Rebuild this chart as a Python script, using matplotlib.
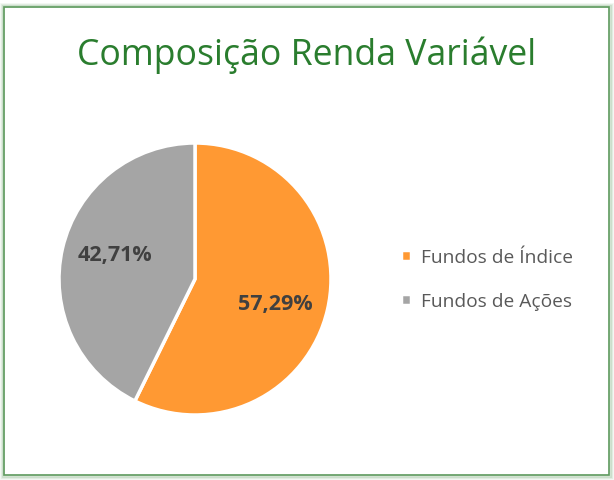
"""Pie chart: composição renda variável."""

import matplotlib.pyplot as plt
from matplotlib.patches import Rectangle

plt.rcParams["font.family"] = ["Open Sans", "DejaVu Sans"]

categories = ["Fundos de Índice", "Fundos de Ações"]
shares = [57.29, 42.71]
labels = ["57,29%", "42,71%"]
colors = ["#FF9933", "#A5A5A5"]

W, H = 614, 481
fig = plt.figure(figsize=(W / 100, H / 100), dpi=100)
fig.patch.set_facecolor("white")

# soft green shadow and frame
for i, a in enumerate([0.10, 0.15, 0.25]):
    d = 3 - i
    fig.patches.append(Rectangle(((4 - d) / W, (5 - d) / H), (605 + 2 * d) / W, (468 + 2 * d) / H,
                                 transform=fig.transFigure, facecolor="none",
                                 edgecolor="#7FB07F", alpha=a, linewidth=2))
fig.patches.append(Rectangle((4 / W, 5 / H), 605 / W, 468 / H, transform=fig.transFigure,
                             facecolor="none", edgecolor="#5E9A5E", linewidth=1.2))

fig.text(307 / W, 1 - 55 / H, "Composição Renda Variável", ha="center", va="center",
         fontsize=25.7, color="#2A7D2E")

r = 136
ax = fig.add_axes([(195 - r) / W, 1 - (280 + r) / H, 2 * r / W, 2 * r / H])
wedges, texts = ax.pie(shares, colors=colors, startangle=90, counterclock=False,
                       wedgeprops={"edgecolor": "white", "linewidth": 2.5})
ax.set_xlim(-1, 1)
ax.set_ylim(-1, 1)
for lab, pos in zip(labels, [(0.59, -0.18), (-0.59, 0.18)]):
    ax.text(pos[0], pos[1], lab, ha="center", va="center", fontsize=15.5,
            fontweight="bold", color="#404040")
ax.set_aspect("equal")

ax.legend(wedges, categories, loc="center left", bbox_to_anchor=(384 / W, 1 - 280 / H),
          bbox_transform=fig.transFigure, frameon=False, fontsize=13.8,
          labelcolor="#595959", handlelength=0.5, handleheight=0.5, handletextpad=0.55,
          labelspacing=1.35)

fig.savefig("out.png", dpi=100)
